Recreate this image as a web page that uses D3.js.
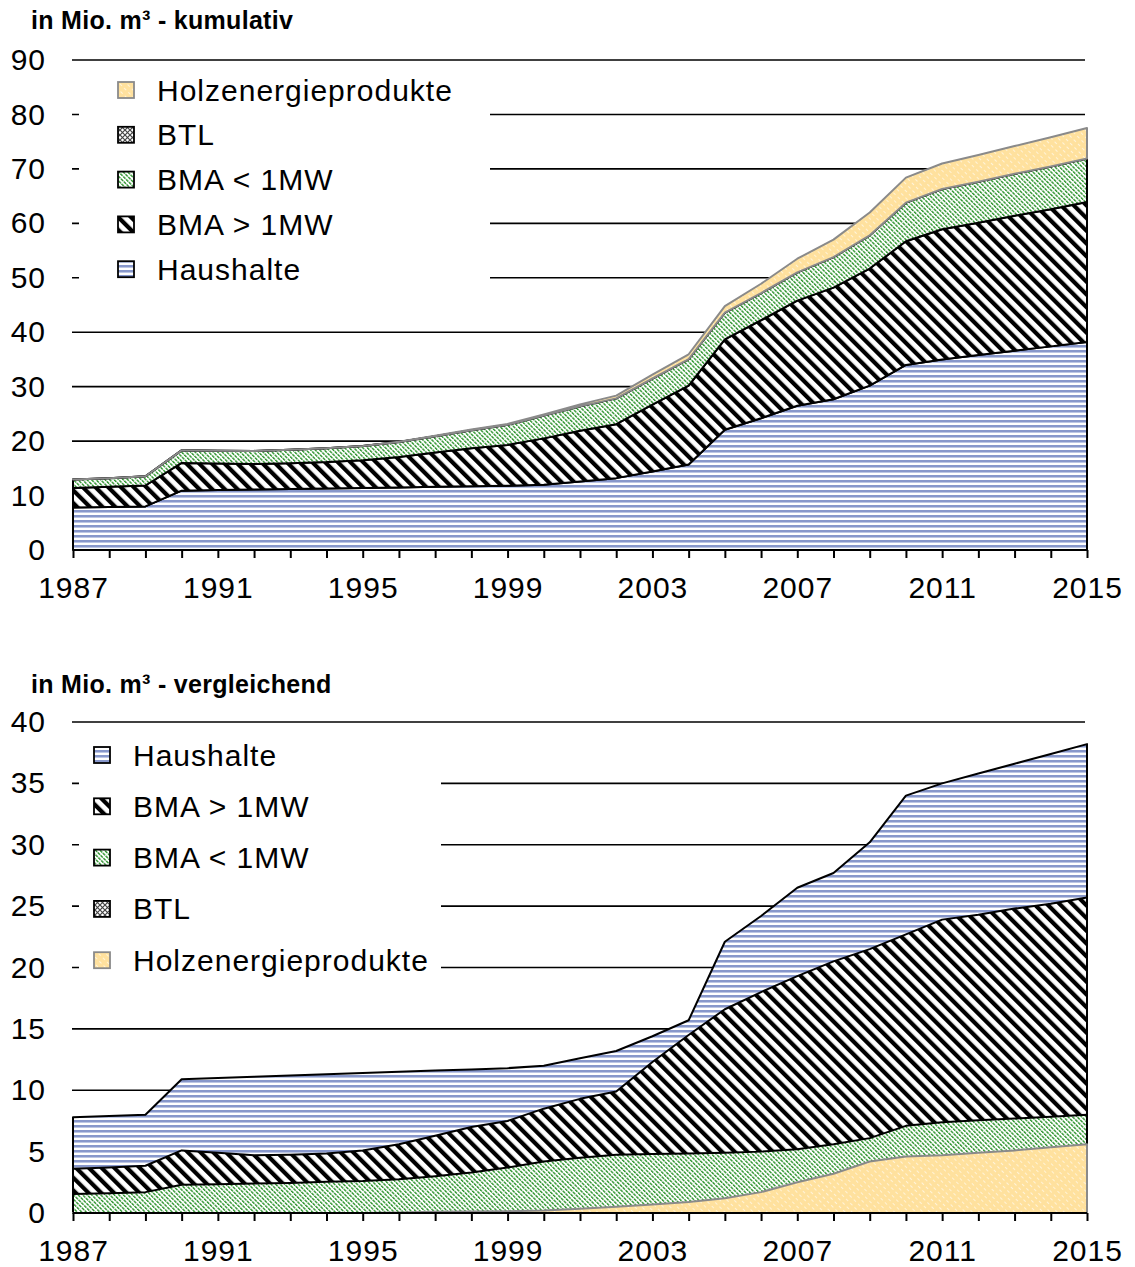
<!DOCTYPE html>
<html>
<head>
<meta charset="utf-8">
<script src="https://cdn.jsdelivr.net/npm/d3@7"></script>
<style>
  body { margin: 0; background: #fff; }
  svg text { font-family: "Liberation Sans", Arial, sans-serif; fill: #000; }
  .axis .domain { stroke: #000; stroke-width: 2; }
  .axis line { stroke: #000; stroke-width: 2; }
  .axis text { font-size: 30px; letter-spacing: 1px; }
  .grid line { stroke: #000; stroke-width: 1.6; }
  .legend text { font-size: 30px; letter-spacing: 1px; }
  .title { font-size: 25px; font-weight: bold; letter-spacing: 0.3px; }
</style>
</head>
<body>
<div id="chart"></div>
<script>
// Jahre und Werte (Mio. m³)
const jahre = d3.range(1987, 2016)
const haushalte = [7.8, 7.9, 8.0, 10.9, 11.0, 11.1, 11.2, 11.3, 11.4, 11.5, 11.6, 11.7, 11.8, 12.0,
    12.6, 13.2, 14.4, 15.7, 22.1, 24.2, 26.5, 27.7, 30.2, 34.0, 35.0, 35.8, 36.6, 37.4, 38.2]
const bmaGross = [3.6, 3.7, 3.85, 5.1, 4.9, 4.7, 4.75, 4.85, 5.1, 5.6, 6.3, 7.0, 7.5, 8.5,
    9.3, 9.9, 12.3, 14.5, 16.6, 18.0, 19.3, 20.5, 21.5, 22.7, 23.9, 24.3, 24.8, 25.2, 25.7]
const bmaKlein = [1.55, 1.6, 1.7, 2.3, 2.35, 2.4, 2.45, 2.55, 2.6, 2.75, 3.0, 3.3, 3.7, 4.2,
    4.5, 4.75, 4.8, 4.85, 4.9, 5.0, 5.2, 5.6, 6.1, 7.1, 7.4, 7.55, 7.7, 7.85, 8.0]
const btl = [0, 0, 0, 0, 0, 0, 0, 0, 0, 0, 0, 0, 0, 0,
    0, 0, 0, 0, 0, 0, 0, 0, 0, 0, 0, 0, 0, 0, 0]
const holz = [0, 0, 0, 0, 0, 0, 0, 0, 0, 0.05, 0.1, 0.12, 0.15, 0.2,
    0.35, 0.5, 0.7, 0.9, 1.2, 1.7, 2.5, 3.2, 4.2, 4.6, 4.7, 4.9, 5.1, 5.35, 5.6]

const ticksOben = [0, 10, 20, 30, 40, 50, 60, 70, 80, 90]
const ticksUnten = [0, 5, 10, 15, 20, 25, 30, 35, 40]
const jahresLabels = [1987, 1991, 1995, 1999, 2003, 2007, 2011, 2015]

const serien = [
    { key: 'Haushalte', werte: haushalte, fill: 'url(#p-haus)', stroke: '#000' },
    { key: 'BMA > 1MW', werte: bmaGross, fill: 'url(#p-gross)', stroke: '#000' },
    { key: 'BMA < 1MW', werte: bmaKlein, fill: 'url(#p-klein)', stroke: '#000' },
    { key: 'BTL', werte: btl, fill: 'url(#p-btl)', stroke: '#000' },
    { key: 'Holzenergieprodukte', werte: holz, fill: 'url(#p-holz)', stroke: '#8a8a8a' }
]

const width = 1135
const height = 1267

const svg = d3.select('#chart').append('svg')
    .attr('width', width)
    .attr('height', height)

// Muster
const defs = svg.append('defs')

const pHaus = defs.append('pattern').attr('id', 'p-haus')
    .attr('patternUnits', 'userSpaceOnUse').attr('width', 6).attr('height', 5)
pHaus.append('rect').attr('width', 6).attr('height', 5).attr('fill', '#fff')
pHaus.append('rect').attr('y', 0).attr('width', 6).attr('height', 2).attr('fill', '#8797cb')
pHaus.append('rect').attr('y', 2).attr('width', 6).attr('height', 1).attr('fill', '#bcc6e4')

const pGross = defs.append('pattern').attr('id', 'p-gross')
    .attr('patternUnits', 'userSpaceOnUse').attr('width', 9).attr('height', 9)
    .attr('patternTransform', 'rotate(-45)')
pGross.append('rect').attr('width', 9).attr('height', 9).attr('fill', '#fff')
pGross.append('rect').attr('width', 4.2).attr('height', 9).attr('fill', '#000')

const pKlein = defs.append('pattern').attr('id', 'p-klein')
    .attr('patternUnits', 'userSpaceOnUse').attr('width', 3.2).attr('height', 4)
    .attr('patternTransform', 'rotate(-45)')
pKlein.append('rect').attr('width', 3.2).attr('height', 4).attr('fill', '#fff')
pKlein.append('rect').attr('width', 1.4).attr('height', 3.2).attr('fill', '#2e942e')

const pBtl = defs.append('pattern').attr('id', 'p-btl')
    .attr('patternUnits', 'userSpaceOnUse').attr('width', 5).attr('height', 5)
pBtl.append('rect').attr('width', 5).attr('height', 5).attr('fill', '#fff')
pBtl.append('path').attr('d', 'M0,0L5,5M5,0L0,5').attr('stroke', '#444').attr('stroke-width', 1.2)

const pHolz = defs.append('pattern').attr('id', 'p-holz')
    .attr('patternUnits', 'userSpaceOnUse').attr('width', 5).attr('height', 6)
    .attr('patternTransform', 'rotate(-45)')
pHolz.append('rect').attr('width', 5).attr('height', 6).attr('fill', '#ffe19e')
pHolz.append('rect').attr('width', 1).attr('height', 3).attr('fill', '#fff').attr('opacity', 0.6)

const x = d3.scaleLinear().domain([1987, 2015]).range([73, 1087])

function zeichneAchsen(y, ticks, legendBox) {
    // Gitterlinien
    svg.append('g').attr('class', 'grid')
        .selectAll('line')
        .data(ticks.filter(t => t > 0))
        .enter()
        .append('line')
        .attr('x1', 72)
        .attr('x2', 1085)
        .attr('y1', d => y(d))
        .attr('y2', d => y(d))

    // Legendenhintergrund deckt Gitter ab
    svg.append('rect')
        .attr('x', legendBox[0]).attr('y', legendBox[1])
        .attr('width', legendBox[2]).attr('height', legendBox[3])
        .attr('fill', '#fff')

    const yAxis = d3.axisLeft(y).tickValues(ticks).tickSize(0).tickPadding(0)
    svg.append('g')
        .attr('class', 'axis')
        .attr('transform', 'translate(46,0)')
        .call(yAxis)
        .call(g => g.select('.domain').remove())
}

function zeichneXAchse(y) {
    const xAxis = d3.axisBottom(x)
        .tickValues(jahre)
        .tickSize(8)
        .tickPadding(19)
        .tickFormat(d => jahresLabels.includes(d) ? String(d) : '')
    svg.append('g')
        .attr('class', 'axis')
        .attr('transform', `translate(0, ${y.range()[0]})`)
        .call(xAxis)
        .call(g => g.select('.domain').attr('d', `M73,0H1087`))
}

function legende(reihen, x0, y0, dy, sw) {
    const g = svg.append('g').attr('class', 'legend')
    reihen.forEach((s, i) => {
        const cy = y0 + i * dy
        g.append('rect')
            .attr('x', x0).attr('y', cy - sw / 2)
            .attr('width', sw).attr('height', sw)
            .attr('fill', s.fill)
            .attr('stroke', s.key === 'Holzenergieprodukte' ? '#8a8a8a' : '#000')
            .attr('stroke-width', 1.8)
        g.append('text')
            .attr('x', x0 + 39)
            .attr('y', cy)
            .attr('dy', '0.35em')
            .text(s.key)
    })
}

// ---------- oben: kumulativ ----------
const yOben = d3.scaleLinear().domain([0, 90]).range([550, 60])

svg.append('text').attr('class', 'title')
    .attr('x', 31).attr('y', 29)
    .text('in Mio. m³ - kumulativ')

zeichneAchsen(yOben, ticksOben, [79, 66, 411, 230])

const tabelle = jahre.map((j, i) => {
    const row = { jahr: j }
    serien.forEach(s => { row[s.key] = s.werte[i] })
    return row
})

const stack = d3.stack().keys(serien.map(s => s.key))
const gestapelt = stack(tabelle)

const areaOben = d3.area()
    .x(d => x(d.data.jahr))
    .y0(d => yOben(d[0]))
    .y1(d => yOben(d[1]))

svg.append('g')
    .selectAll('path')
    .data(gestapelt)
    .enter()
    .append('path')
    .attr('d', areaOben)
    .attr('fill', (d, i) => serien[i].fill)
    .attr('stroke', (d, i) => serien[i].stroke)
    .attr('stroke-width', 2)
    .attr('stroke-linejoin', 'round')

zeichneXAchse(yOben)
legende(serien.slice().reverse(), 118, 90, 44.8, 16)

// ---------- unten: vergleichend ----------
const yUnten = d3.scaleLinear().domain([0, 40]).range([1213, 722])

svg.append('text').attr('class', 'title')
    .attr('x', 31).attr('y', 693)
    .text('in Mio. m³ - vergleichend')

zeichneAchsen(yUnten, ticksUnten, [79, 730, 362, 258])

const areaUnten = d3.area()
    .x((d, i) => x(jahre[i]))
    .y0(yUnten(0))
    .y1(d => yUnten(d))

svg.append('g')
    .selectAll('path')
    .data(serien)
    .enter()
    .append('path')
    .attr('d', s => areaUnten(s.werte))
    .attr('fill', s => s.fill)
    .attr('stroke', s => s.stroke)
    .attr('stroke-width', 2)
    .attr('stroke-linejoin', 'round')

zeichneXAchse(yUnten)
legende(serien, 94, 755, 51.3, 16)
</script>
</body>
</html>
